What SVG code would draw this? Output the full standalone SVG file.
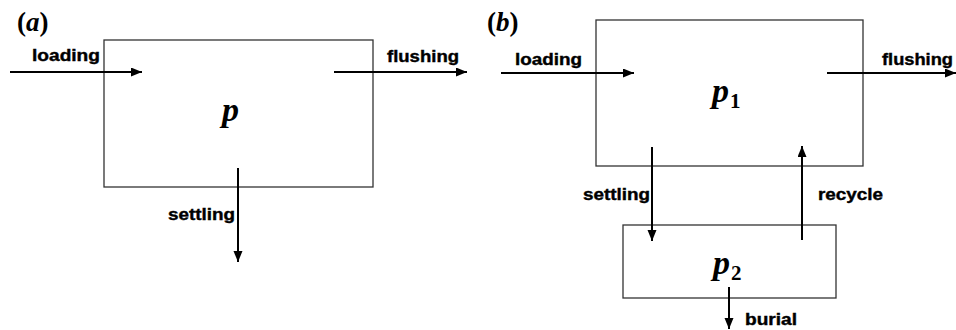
<svg xmlns="http://www.w3.org/2000/svg" width="956" height="330" viewBox="0 0 956 330">
<defs>
<style>
.box{fill:none;stroke:#333;stroke-width:1.3}
.ar{fill:none;stroke:#000;stroke-width:2;marker-end:url(#ah)}
.lbl{font-family:"Liberation Sans",Arial,sans-serif;font-weight:bold;font-size:16.5px;fill:#000;stroke:#000;stroke-width:0.4}
.var{font-family:"Liberation Serif","Times New Roman",serif;font-weight:bold;font-style:italic;font-size:34px;fill:#000}
.sub{font-style:normal;font-size:21px}
.tag{font-family:"Liberation Serif","Times New Roman",serif;font-weight:bold;font-size:27px;fill:#000}
.tagi{font-style:italic}
</style>
<marker id="ah" markerUnits="userSpaceOnUse" markerWidth="12" markerHeight="10" refX="11" refY="4.5" orient="auto">
<path d="M0,0 L11,4.5 L0,9 z" fill="#000"/>
</marker>
</defs>
<g id="panel-a-label"><text class="tag" x="17" y="31">(<tspan class="tagi">a</tspan>)</text></g>
<g id="panel-b-label"><text class="tag" x="487" y="31">(<tspan class="tagi">b</tspan>)</text></g>
<g id="node-p">
<rect class="box" x="104" y="40" width="269" height="147"/>
<text class="var" x="222" y="121">p</text>
</g>
<g id="node-p1">
<rect class="box" x="596" y="20" width="267" height="146"/>
<text class="var" x="712" y="102">p<tspan class="sub" dx="1" dy="6">1</tspan></text>
</g>
<g id="node-p2">
<rect class="box" x="623" y="225" width="213" height="73"/>
<text class="var" x="713" y="274">p<tspan class="sub" dx="1" dy="6">2</tspan></text>
</g>
<g id="connectors">
<line class="ar" x1="10" y1="72" x2="142" y2="72"/>
<line class="ar" x1="334" y1="72" x2="467" y2="72"/>
<line class="ar" x1="238" y1="168" x2="238" y2="262"/>
<line class="ar" x1="501" y1="73" x2="634" y2="73"/>
<line class="ar" x1="827" y1="73" x2="956" y2="73"/>
<line class="ar" x1="652" y1="147" x2="652" y2="241"/>
<line class="ar" x1="802" y1="240" x2="802" y2="146"/>
<line class="ar" x1="729" y1="287" x2="729" y2="329"/>
</g>
<g id="labels">
<text class="lbl" x="32" y="61" textLength="68" lengthAdjust="spacingAndGlyphs">loading</text>
<text class="lbl" x="387" y="62" textLength="72" lengthAdjust="spacingAndGlyphs">flushing</text>
<text class="lbl" x="168" y="220" textLength="67" lengthAdjust="spacingAndGlyphs">settling</text>
<text class="lbl" x="515" y="65" textLength="67" lengthAdjust="spacingAndGlyphs">loading</text>
<text class="lbl" x="882" y="65" textLength="71" lengthAdjust="spacingAndGlyphs">flushing</text>
<text class="lbl" x="583" y="200" textLength="67" lengthAdjust="spacingAndGlyphs">settling</text>
<text class="lbl" x="818" y="200" textLength="65" lengthAdjust="spacingAndGlyphs">recycle</text>
<text class="lbl" x="745" y="325" textLength="52" lengthAdjust="spacingAndGlyphs">burial</text>
</g>
</svg>
